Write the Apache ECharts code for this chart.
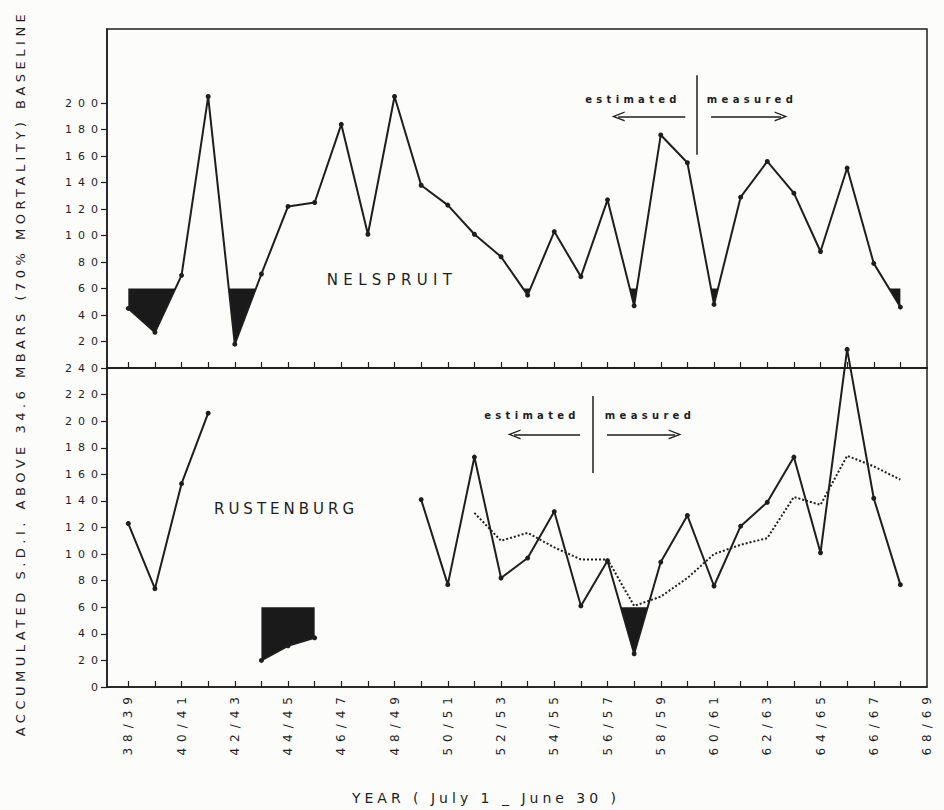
<!DOCTYPE html>
<html>
<head>
<meta charset="utf-8">
<title>Accumulated S.D.I. - Nelspruit and Rustenburg</title>
<script src="https://cdn.jsdelivr.net/npm/echarts@6/dist/echarts.min.js"></script>
<style>
  html, body { margin: 0; padding: 0; background: #fcfcfa; }
  #chart { width: 944px; height: 810px; }
</style>
</head>
<body>
<div id="chart"></div>
<script>
// seasons, July 1 - June 30
var years = ['38/39', '39/40', '40/41', '41/42', '42/43', '43/44', '44/45', '45/46', '46/47', '47/48',
  '48/49', '49/50', '50/51', '51/52', '52/53', '53/54', '54/55', '55/56', '56/57', '57/58',
  '58/59', '59/60', '60/61', '61/62', '62/63', '63/64', '64/65', '65/66', '66/67', '67/68', '68/69']

// accumulated S.D.I. above 34.6 mbars
var nelspruit = [45, 27, 70, 205, 18, 71, 122, 125, 184, 101,
  205, 138, 123, 101, 84, 55, 103, 69, 127, 47,
  176, 155, 48, 129, 156, 132, 88, 151, 79, 46, null]
var rustenburg = [123, 74, 153, 206, null, 20, 31, 37, null, null,
  null, 141, 77, 173, 82, 97, 132, 61, 95, 25,
  94, 129, 76, 121, 139, 173, 101, 254, 142, 77, null]
var rustenburgTrend = [null, null, null, null, null, null, null, null, null, null,
  null, null, null, 131, 110, 116, 105, 96, 96, 61,
  68, 82, 100, 107, 112, 143, 137, 174, 166, 156, null]
var baseline = 60

var topTicks = [20, 40, 60, 80, 100, 120, 140, 160, 180, 200]
var bottomTicks = [0, 20, 40, 60, 80, 100, 120, 140, 160, 180, 200, 220, 240]

// estimated | measured markers (data units)
var topDivider = [[21.35, 221], [21.35, 161]]
var topArrowLeft = [[20.92, 190], [18.4, 190]]
var topArrowRight = [[21.89, 190], [24.52, 190]]
var bottomDivider = [[17.45, 219], [17.45, 161]]
var bottomArrowLeft = [[16.97, 190], [14.49, 190]]
var bottomArrowRight = [[17.98, 190], [20.54, 190]]

var ink = '#1e1e1e'
var font = 'DejaVu Sans'
var chevron = 'path://M0,130 L50,0 L100,130 L86,130 L50,36 L14,130 Z'

var yearIdx = years.map(function (y, i) { return i })
var tickIdx = yearIdx.slice(0, years.length - 1)
var labelIdx = yearIdx.filter(function (i) { return i % 2 === 0 })

function pts (arr) {
  return arr.map(function (v, i) { return [i, v == null ? '-' : v] })
}

// shaded parts: where the curve dips under the baseline
function droughts (arr, base) {
  var polys = []
  var cur = null
  for (var i = 0; i < arr.length; i++) {
    var v = arr[i]
    if (v != null && v < base) {
      if (!cur) {
        var p = arr[i - 1]
        if (p != null && i > 0) {
          cur = [[i - 1 + (p - base) / (p - v), base]]
        } else {
          cur = [[i, base]]
        }
      }
      cur.push([i, v])
      var n = arr[i + 1]
      if (n == null || n >= base) {
        if (n != null) {
          cur.push([i + (base - v) / (n - v), base])
        } else {
          cur.push([i, base])
        }
        polys.push(cur)
        cur = null
      }
    }
  }
  return polys
}

function fillSeries (polys, gi) {
  return {
    type: 'custom',
    xAxisIndex: gi,
    yAxisIndex: gi,
    silent: true,
    z: 2,
    data: polys.map(function (p, k) { return [p[1][0], p[1][1], k] }),
    renderItem: function (params, api) {
      var poly = polys[params.dataIndex]
      return {
        type: 'polygon',
        shape: { points: poly.map(function (q) { return api.coord(q) }) },
        style: { fill: '#1a1a1a' }
      }
    }
  }
}

function arrowPair (divider, left, right) {
  return {
    silent: true,
    animation: false,
    label: { show: false },
    lineStyle: { color: ink, width: 1.5, type: 'solid' },
    symbolSize: [10, 13],
    data: [
      [{ coord: divider[0], symbol: 'none' }, { coord: divider[1], symbol: 'none' }],
      [{ coord: left[0], symbol: 'none' }, { coord: left[1], symbol: chevron }],
      [{ coord: right[0], symbol: 'none' }, { coord: right[1], symbol: chevron }]
    ]
  }
}

function xAxis (gi, withLabels) {
  return {
    type: 'value',
    gridIndex: gi,
    min: -0.8,
    max: 30,
    axisLine: { show: true, onZero: false, lineStyle: { color: ink, width: 1.5 } },
    axisTick: { show: true, inside: true, length: 6, customValues: tickIdx, lineStyle: { color: ink, width: 1.2 } },
    axisLabel: {
      show: withLabels,
      customValues: labelIdx,
      rotate: 90,
      margin: 4,
      color: ink,
      fontFamily: font,
      fontSize: 12,
      formatter: function (v) { return years[Math.round(v)] }
    },
    splitLine: { show: false }
  }
}

function yAxis (gi, max, ticks) {
  return {
    type: 'value',
    gridIndex: gi,
    min: 0,
    max: max,
    axisLine: { show: true, onZero: false, lineStyle: { color: ink, width: 1.5 } },
    axisTick: { show: true, length: 6, customValues: ticks, lineStyle: { color: ink, width: 1.2 } },
    axisLabel: { customValues: ticks, margin: 3, color: ink, fontFamily: font, fontSize: 11 },
    splitLine: { show: false }
  }
}

function label (text, x, y, size, weight) {
  return {
    type: 'text',
    x: x,
    y: y,
    silent: true,
    style: {
      text: text,
      fill: ink,
      font: (weight || 'normal') + ' ' + size + 'px "' + font + '"',
      align: 'center',
      verticalAlign: 'middle',
      textAlign: 'center',
      textVerticalAlign: 'middle'
    }
  }
}

var chart = echarts.init(document.getElementById('chart'), null, { renderer: 'svg' })

var option = {
  backgroundColor: '#fcfcfa',
  animation: false,
  grid: [
    { left: 107, right: 17, top: 29, height: 339, show: true, borderColor: ink, borderWidth: 1.5, backgroundColor: 'transparent' },
    { left: 107, right: 17, top: 368, height: 319, show: true, borderColor: ink, borderWidth: 1.5, backgroundColor: 'transparent' }
  ],
  xAxis: [xAxis(0, false), xAxis(1, true)],
  yAxis: [yAxis(0, 256, topTicks), yAxis(1, 240, bottomTicks)],
  graphic: [
    Object.assign(label('ACCUMULATED S.D.I. ABOVE 34.6 MBARS (70% MORTALITY) BASELINE', 20, 373, 13), { rotation: Math.PI / 2 }),
    label('YEAR ( July 1 _ June 30 )', 486, 798, 14),
    label('NELSPRUIT', 392, 280, 15),
    label('RUSTENBURG', 286, 509, 15),
    label('estimated', 633, 99, 10, 'bold'),
    label('measured', 752, 99, 10, 'bold'),
    label('estimated', 532, 415, 10, 'bold'),
    label('measured', 650, 415, 10, 'bold')
  ],
  series: [
    fillSeries(droughts(nelspruit, baseline), 0),
    {
      name: 'Nelspruit',
      type: 'line',
      xAxisIndex: 0,
      yAxisIndex: 0,
      data: pts(nelspruit),
      symbol: 'circle',
      symbolSize: 5,
      z: 3,
      lineStyle: { color: ink, width: 2 },
      itemStyle: { color: ink },
      markLine: arrowPair(topDivider, topArrowLeft, topArrowRight)
    },
    fillSeries(droughts(rustenburg, baseline), 1),
    {
      name: 'Rustenburg',
      type: 'line',
      xAxisIndex: 1,
      yAxisIndex: 1,
      data: pts(rustenburg),
      clip: false,
      symbol: 'circle',
      symbolSize: 5,
      z: 3,
      lineStyle: { color: ink, width: 2 },
      itemStyle: { color: ink },
      markLine: arrowPair(bottomDivider, bottomArrowLeft, bottomArrowRight)
    },
    {
      name: 'Rustenburg trend',
      type: 'line',
      xAxisIndex: 1,
      yAxisIndex: 1,
      data: pts(rustenburgTrend),
      showSymbol: false,
      z: 3,
      lineStyle: { color: ink, width: 2, type: 'dotted' }
    }
  ]
}

chart.setOption(option)

// wide lettering like the original drawing
function spaceOut () {
  var texts = document.querySelectorAll('#chart svg text')
  texts.forEach(function (t) {
    var s = t.textContent
    var gap = '4.3px'
    if (/^\d+$/.test(s)) gap = '6px'
    else if (s.indexOf('/') > 0) gap = '6px'
    else if (s.indexOf('ACCUMULATED') === 0) gap = '4.5px'
    else if (s.indexOf('YEAR') === 0) gap = '4px'
    else if (s === 'NELSPRUIT') gap = '5.3px'
    else if (s === 'RUSTENBURG') gap = '4px'
    t.style.letterSpacing = gap
  })
}
spaceOut()
chart.on('finished', spaceOut)
</script>
</body>
</html>
